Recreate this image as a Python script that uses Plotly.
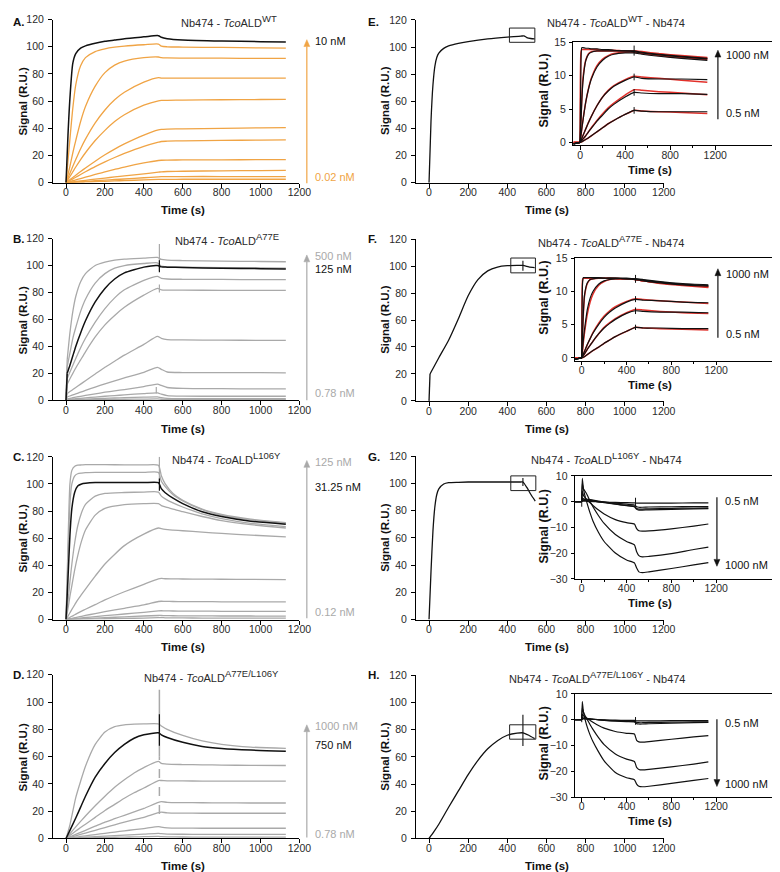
import plotly.graph_objects as go

W, H = 780, 872
FONT = "Liberation Sans, Arial, Helvetica, sans-serif"
NARROW = "Liberation Sans Narrow, Arial Narrow, Liberation Sans, sans-serif"
ORANGE = "#F0A445"
GRAY = "#A9A9A9"
RED = "#E2312B"
INK = "#111111"
TXT = "#2a2a2a"

# ---------------- data ----------------
MAIN_XTICKS = [0, 200, 400, 600, 800, 1000, 1200]
MAIN_YTICKS = [0, 20, 40, 60, 80, 100, 120]
INSET_XTICKS = [0, 400, 800, 1200]
INSET_XMINOR = [200, 600, 1000]
INSET_YTICKS_POS = [0, 5, 10, 15]
INSET_YTICKS_NEG = [-30, -20, -10, 0, 10]

# Panel A (Nb474 - TcoALD WT), orange series 0.02 .. 5 nM, black = 10 nM
GRID_A = [0, 10, 20, 35, 50, 75, 100, 150, 200, 250, 300, 400, 475, 490, 520, 600, 800, 1000, 1130]
A_BLACK = [0, 35, 62, 88, 95, 99, 100.7, 102.6, 104, 105, 106, 107.3, 108.2, 107, 106, 105, 104.2, 103.8, 103.5]
A_ORANGE = [
    [0, 16, 32, 55, 72, 86, 92, 96.5, 98.5, 99.7, 100.5, 101.5, 102, 100.5, 100, 99.8, 99.5, 99.2, 99],
    [0, 6, 12, 22, 31, 45, 56, 71, 81, 86.5, 89.5, 92, 92.5, 92, 91.8, 91.7, 91.6, 91.5, 91.5],
    [0, 3.5, 7, 12, 17, 25, 32, 44, 53.5, 61, 66.5, 74, 77.3, 77, 77, 77, 77, 77, 77],
    [0, 2.2, 4.5, 8, 11.5, 17, 22, 31, 38.5, 45, 50, 57, 60.2, 60.5, 60.6, 60.8, 61, 61.2, 61.3],
    [0, 1.1, 2.2, 3.8, 5.5, 8.2, 10.8, 15.8, 20.5, 24.7, 28.5, 35, 38.8, 39.2, 39.4, 39.6, 40, 40.3, 40.5],
    [0, 0.8, 1.6, 2.8, 4, 6, 8, 11.8, 15.3, 18.5, 21.5, 26.7, 29.8, 30.3, 30.5, 30.8, 31.1, 31.3, 31.5],
    [0, 0.4, 0.8, 1.4, 2, 3, 4, 6, 8, 9.8, 11.5, 14.5, 16.3, 16.5, 16.6, 16.7, 16.8, 16.9, 17],
    [0, 0.2, 0.4, 0.6, 0.9, 1.3, 1.7, 2.6, 3.4, 4.2, 5, 6.5, 7.7, 8, 8.2, 8.4, 8.7, 8.9, 9],
    [0, 0.1, 0.2, 0.3, 0.5, 0.7, 0.9, 1.4, 1.9, 2.3, 2.7, 3.6, 4.3, 4.4, 4.4, 4.5, 4.5, 4.5, 4.5],
    [0, 0.05, 0.1, 0.2, 0.3, 0.4, 0.5, 0.8, 1, 1.3, 1.5, 2, 2.4, 2.4, 2.4, 2.5, 2.5, 2.5, 2.5],
]

# Panel B (A77E), black = 125 nM
GRID_B = [0, 6, 20, 35, 50, 75, 100, 150, 200, 250, 300, 400, 470, 490, 520, 600, 800, 1000, 1130]
B_BLACK = [0, 20, 26, 33, 40, 50, 59, 73, 83, 90, 94.5, 98.8, 100, 99, 98.8, 98.5, 98, 97.7, 97.5]
B_GRAY = [
    [0, 30, 50, 66, 77, 88, 94, 100, 102.5, 104, 104.8, 105.5, 106, 104.5, 104, 103.7, 103.3, 103, 102.8],
    [0, 25, 35, 46, 54, 66, 75, 87, 94, 98, 100, 101.5, 102, 99.5, 99, 98.8, 98.5, 98.3, 98],
    [0, 16, 21, 26, 31, 39, 46, 58, 68, 76, 82, 89, 92, 90.5, 90, 89.8, 89.7, 89.5, 89.5],
    [0, 12, 16, 20, 24, 30, 36, 47, 56, 63, 69, 78, 83, 82, 81.8, 81.7, 81.6, 81.5, 81.5],
    [0, 5, 6.5, 8, 9.5, 12, 14.5, 19.5, 24.5, 29, 33.5, 41.5, 47.5, 46, 45, 44.8, 44.6, 44.5, 44.5],
    [0, 2.5, 3.2, 4, 4.8, 6, 7.3, 9.8, 12.2, 14.5, 16.6, 20.8, 24.5, 23, 21, 20.6, 20.5, 20.5, 20.4],
    [0, 1.2, 1.5, 1.9, 2.3, 3, 3.6, 4.8, 6, 7, 8, 10.2, 12, 11, 9.5, 8.8, 8.6, 8.5, 8.5],
    [0, 0.6, 0.8, 1, 1.2, 1.5, 1.8, 2.4, 3, 3.5, 4, 5, 5.5, 4.5, 3.5, 3.1, 3, 3, 3],
    [0, 0.3, 0.4, 0.5, 0.6, 0.7, 0.9, 1.2, 1.5, 1.7, 1.9, 2.3, 2.5, 2, 1.5, 1.3, 1.2, 1.2, 1.2],
    [0, 0.1, 0.15, 0.2, 0.25, 0.3, 0.35, 0.45, 0.55, 0.65, 0.75, 0.9, 1, 0.8, 0.6, 0.5, 0.5, 0.5, 0.5],
]
B_SPIKES_GRAY = [(480, 96, 116), (480, 80, 86), (464, 5, 9.8)]
B_SPIKES_BLACK = [(480, 95, 104)]

# Panel C (L106Y), black = 31.25 nM
GRID_C = [0, 10, 20, 30, 45, 60, 80, 100, 150, 200, 300, 400, 475, 490, 510, 550, 600, 700, 800, 950, 1130]
C_BLACK = [0, 30, 62, 82, 94, 98.5, 100, 100.5, 101, 101, 101, 101, 101, 96.5, 93.5, 89.5, 85.5, 79.5, 76, 72.5, 70.3]
C_GRAY = [
    [0, 55, 100, 110, 113, 113.8, 114, 114.2, 114.3, 114.2, 114.1, 114, 113.8, 106, 100, 93, 88, 81.5, 77.5, 74, 71.5],
    [0, 45, 85, 100, 106, 107.5, 108, 108.3, 108.5, 108.5, 108.5, 108.5, 108.5, 102, 98, 92, 87.5, 81, 77, 73.5, 71],
    [0, 13, 28, 41, 57, 69, 79, 85, 91, 93, 93.7, 94, 94, 91, 89, 86, 83, 78, 74.5, 71, 68.5],
    [0, 8, 17, 25, 37, 47, 58, 66, 77, 82, 84.8, 85.5, 85.5, 84, 83, 81.5, 79.5, 76, 73, 70, 67.5],
    [0, 2.5, 5, 7.5, 11, 14.5, 18.5, 22.5, 32, 41, 54.5, 63, 67.5, 67, 66.5, 66, 65.5, 64.5, 63.5, 62.3, 61],
    [0, 0.8, 1.6, 2.4, 3.5, 4.7, 6.2, 7.6, 11, 14.5, 20.5, 26, 30, 30.3, 30.1, 30, 29.9, 29.8, 29.7, 29.6, 29.5],
    [0, 0.3, 0.6, 0.9, 1.4, 1.8, 2.4, 3, 4.4, 5.8, 8.3, 10.8, 13.3, 13.5, 13.4, 13.3, 13.2, 13.2, 13.1, 13, 13],
    [0, 0.15, 0.3, 0.45, 0.7, 0.9, 1.2, 1.5, 2.2, 2.9, 4.1, 5.3, 6.4, 6.5, 6.4, 6.3, 6.2, 6.2, 6.1, 6, 6],
    [0, 0.07, 0.15, 0.22, 0.35, 0.45, 0.6, 0.75, 1.1, 1.4, 2, 2.6, 3, 3, 2.9, 2.8, 2.7, 2.7, 2.6, 2.6, 2.5],
    [0, 0.03, 0.07, 0.1, 0.15, 0.2, 0.25, 0.3, 0.45, 0.6, 0.85, 1.1, 1.4, 1.4, 1.3, 1.2, 1.2, 1.1, 1.1, 1, 1],
]
C_SPIKES_GRAY = [(480, 100, 120)]
C_SPIKES_BLACK = [(480, 95, 104)]

# Panel D (A77E/L106Y), black = 750 nM
GRID_D = [0, 20, 50, 75, 100, 150, 200, 250, 300, 350, 400, 475, 490, 520, 600, 700, 800, 950, 1130]
D_BLACK = [0, 6, 15, 23, 31, 45, 55, 63, 69, 73.5, 76, 77.5, 76, 74, 70.5, 67.5, 66, 64.8, 64]
D_GRAY = [
    [0, 10, 30, 42, 53, 69, 78, 82, 83.3, 83.8, 84, 84, 82.5, 80, 75.5, 71.5, 69, 67, 66],
    [0, 3.5, 8.5, 12.5, 16.5, 24, 31, 37.5, 43, 48, 52, 56.5, 55, 54.5, 54.2, 54, 53.8, 53.6, 53.5],
    [0, 2.2, 5.5, 8, 10.5, 15.5, 20.5, 25, 29.5, 33.5, 37, 42.5, 42.5, 42.3, 42.2, 42.1, 42, 42, 42],
    [0, 1.2, 3, 4.5, 6, 9, 12, 14.5, 17, 19.5, 22, 26.5, 27, 26.5, 26.3, 26.2, 26.1, 26, 26],
    [0, 0.8, 2, 3, 4, 6, 8, 10, 12, 13.8, 15.5, 19, 19.3, 18.8, 18.6, 18.5, 18.5, 18.5, 18.5],
    [0, 0.4, 1, 1.5, 2, 2.9, 3.8, 4.7, 5.6, 6.5, 7.3, 8.7, 8.3, 7.8, 7.6, 7.5, 7.5, 7.5, 7.5],
    [0, 0.2, 0.5, 0.7, 0.9, 1.3, 1.7, 2.1, 2.5, 2.9, 3.2, 3.8, 3.5, 3.2, 3.1, 3, 3, 3, 3],
    [0, 0.08, 0.2, 0.3, 0.4, 0.6, 0.8, 0.9, 1, 1.2, 1.3, 1.5, 1.3, 1.2, 1.1, 1, 1, 1, 1],
]
D_SPIKES_GRAY = [(480, 60, 109)]
D_SPIKES_GRAY_DASHED = [(480, 18, 60)]
D_SPIKES_BLACK = [(480, 68, 91)]

# Right column: sandwich sensorgrams (single curve each)
E_T = [0, 10, 20, 30, 40, 50, 75, 100, 150, 200, 300, 400, 470, 485, 500, 520, 540]
E_Y = [0, 45, 72, 86, 92.5, 95.5, 99, 100.8, 102.7, 104, 106, 107.3, 108, 108.3, 107, 106.3, 106]
F_T = [0, 5, 50, 100, 150, 200, 250, 300, 350, 400, 450, 480, 510, 540]
F_Y = [0, 20, 32, 45, 61, 78, 90, 96.5, 99.3, 100.3, 100.5, 100.5, 99.5, 98.8]
G_T = [0, 10, 20, 30, 40, 50, 75, 100, 150, 200, 300, 400, 470, 480, 500, 520, 543]
G_Y = [0, 35, 65, 83, 92, 96, 99.5, 100.5, 100.8, 101, 101, 101, 101, 101, 97, 92, 87]
H_T = [0, 25, 50, 100, 150, 200, 250, 300, 350, 400, 450, 480, 510, 540]
H_Y = [0, 5, 10.5, 23, 35, 47, 57.5, 66, 72, 76, 77.5, 77.8, 76, 73.5]
E_SPIKES = []
F_SPIKES = [(480, 96.5, 104)]
G_SPIKES = [(480, 98, 104)]
H_SPIKES = [(480, 68, 91)]
ZOOM_BOX_E = [411, 541, 103.5, 114]
ZOOM_BOX_F = [418, 544, 95, 106]
ZOOM_BOX_G = [418, 546, 94.7, 105.5]
ZOOM_BOX_H = [412, 546, 73.1, 83.7]

# Insets E/F: data (black) and fits (red), 0.5 .. 1000 nM
GRID_EFI = [-60, 0, 8, 15, 25, 50, 75, 100, 150, 200, 250, 300, 400, 480, 550, 700, 900, 1130]
EI_DATA = [
    [-0.2, 0, 12, 14.2, 14.2, 14.1, 14.1, 14, 14, 13.9, 13.9, 13.8, 13.7, 13.7, 13.5, 13.2, 12.9, 12.6],
    [-0.2, 0, 3, 6, 9, 12.2, 13.2, 13.5, 13.7, 13.7, 13.7, 13.7, 13.7, 13.6, 13.4, 13.1, 12.8, 12.5],
    [-0.2, 0, 1, 2, 3.2, 6, 8, 9.5, 11.3, 12.3, 12.9, 13.2, 13.4, 13.4, 13.2, 12.9, 12.6, 12.3],
    [-0.2, 0, 0.3, 0.6, 1, 2, 3, 3.9, 5.5, 6.8, 7.7, 8.4, 9.3, 9.8, 9.6, 9.5, 9.5, 9.4],
    [-0.2, 0, 0.15, 0.3, 0.5, 1, 1.6, 2.1, 3.2, 4.1, 5, 5.7, 6.8, 7.5, 7.4, 7.3, 7.3, 7.2],
    [-0.2, 0, 0.05, 0.1, 0.2, 0.45, 0.7, 1, 1.6, 2.2, 2.8, 3.3, 4.2, 4.8, 4.7, 4.6, 4.6, 4.6],
]
EI_FIT = [
    [0, 0, 13.5, 13.9, 13.9, 13.9, 13.9, 13.9, 13.9, 13.8, 13.8, 13.8, 13.7, 13.7, 13.6, 13.3, 13.0, 12.7],
    [0, 0, 3.5, 6.5, 9.5, 12.3, 13.3, 13.6, 13.7, 13.7, 13.7, 13.7, 13.7, 13.7, 13.5, 13.2, 12.9, 12.6],
    [0, 0, 1, 2, 3.3, 6, 8.1, 9.6, 11.5, 12.5, 13, 13.3, 13.5, 13.5, 13.3, 13, 12.7, 12.4],
    [0, 0, 0.3, 0.6, 1, 2, 3, 3.9, 5.5, 6.8, 7.8, 8.5, 9.4, 9.9, 9.8, 9.6, 9.3, 9.0],
    [0, 0, 0.15, 0.3, 0.5, 1, 1.6, 2.2, 3.3, 4.3, 5.2, 5.9, 7.1, 7.9, 7.8, 7.6, 7.4, 7.15],
    [0, 0, 0.05, 0.1, 0.2, 0.45, 0.7, 1, 1.6, 2.2, 2.8, 3.3, 4.2, 4.8, 4.7, 4.6, 4.5, 4.35],
]
EI_SPIKES = [(480, 13.0, 14.5), (480, 9.3, 10.3), (480, 7.0, 8.0), (480, 4.3, 5.3)]
FI_DATA = [
    [-0.2, 0, 11.5, 12.1, 12.1, 12.1, 12.1, 12.1, 12.1, 12, 12, 12, 12, 11.9, 11.8, 11.5, 11.2, 11],
    [-0.2, 0, 4, 7, 9.5, 11.3, 11.8, 11.9, 12, 12, 12, 12, 11.9, 11.9, 11.7, 11.4, 11.1, 10.9],
    [-0.2, 0, 1.5, 2.8, 4.3, 7.3, 9, 10, 11.1, 11.6, 11.8, 11.9, 11.9, 11.8, 11.6, 11.3, 11, 10.8],
    [-0.2, 0, 0.3, 0.6, 1, 2, 2.9, 3.7, 5, 6.1, 6.9, 7.5, 8.4, 8.8, 8.7, 8.6, 8.4, 8.3],
    [-0.2, 0, 0.2, 0.4, 0.6, 1.3, 1.9, 2.5, 3.6, 4.5, 5.2, 5.8, 6.7, 7.1, 7, 6.9, 6.9, 6.8],
    [-0.2, 0, 0.05, 0.1, 0.2, 0.5, 0.8, 1.1, 1.6, 2.2, 2.7, 3.2, 4, 4.6, 4.5, 4.5, 4.4, 4.4],
]
FI_FIT = [
    [0, 0, 11.8, 12, 12, 12, 12, 12, 12, 12, 12, 11.9, 11.9, 11.8, 11.6, 11.3, 11, 10.7],
    [0, 0, 3.8, 6.8, 9.3, 11.2, 11.8, 11.9, 12, 12, 12, 12, 11.9, 11.8, 11.6, 11.3, 11, 10.7],
    [0, 0, 1.2, 2.4, 3.8, 6.6, 8.4, 9.6, 10.9, 11.5, 11.8, 11.9, 11.9, 11.8, 11.6, 11.2, 10.9, 10.6],
    [0, 0, 0.3, 0.6, 1, 2, 2.9, 3.8, 5.2, 6.3, 7.1, 7.7, 8.5, 8.9, 8.8, 8.6, 8.4, 8.2],
    [0, 0, 0.2, 0.4, 0.6, 1.3, 1.9, 2.5, 3.6, 4.6, 5.3, 5.9, 6.8, 7.3, 7.2, 7, 6.8, 6.7],
    [0, 0, 0.05, 0.1, 0.2, 0.5, 0.8, 1.1, 1.6, 2.2, 2.7, 3.2, 4, 4.6, 4.5, 4.4, 4.3, 4.2],
]
FI_SPIKES = [(480, 11.3, 12.5), (480, 8.4, 9.3), (480, 6.6, 7.6), (480, 4.2, 5.0)]

# Insets G/H: data only (negative responses)
GRID_GHI = [-60, 0, 5, 15, 30, 50, 75, 100, 150, 200, 300, 400, 470, 490, 510, 540, 600, 800, 1000, 1130]
GI_DATA = [
    [0, 0, 9, 5, 2, -1, -4.5, -7.5, -12, -15.5, -20, -22.7, -23.8, -25.8, -27.3, -27.6, -27.3, -26, -24.6, -23.7],
    [0, 0, 7, 5, 4, 2.5, 0, -2, -5.5, -8.5, -12.8, -15.5, -16.8, -19.5, -21, -21.5, -21.3, -20.2, -18.6, -17.7],
    [0, 0, 4, 2.5, 1.5, 0.5, -0.5, -1.5, -3.3, -4.8, -7, -8.2, -8.7, -10.5, -11.3, -11.5, -11.4, -10.6, -9.5, -8.7],
    [0, 0, 0.6, 1, 1, 0.9, 0.8, 0.6, 0.2, -0.2, -0.9, -1.6, -2, -3, -3.3, -3.3, -3.2, -3, -2.8, -2.7],
    [0, 0, 1.5, 1, 0.8, 0.6, 0.5, 0.3, -0.1, -0.4, -1, -1.5, -1.8, -2.7, -2.9, -2.9, -2.8, -2.6, -2.5, -2.4],
    [0, 0, 0.5, 0.5, 0.5, 0.4, 0.3, 0.2, 0, -0.2, -0.6, -1, -1.3, -2, -2.2, -2.2, -2.1, -2, -1.9, -1.9],
    [0, 0, 0.2, 0.2, 0.2, 0.1, 0.1, 0, -0.1, -0.2, -0.3, -0.4, -0.5, -0.6, -0.6, -0.6, -0.6, -0.6, -0.5, -0.5],
]
GI_SPIKES = [(0, -2, 1.5), (480, -2, 1.5)]
HI_DATA = [
    [0, 0, 7, 3, 0, -3, -6, -8.5, -12.5, -16, -20.5, -22.5, -23.3, -25, -25.8, -26, -25.8, -24.7, -23.5, -22.8],
    [0, 0, 4.5, 3, 1.5, 0, -2, -3.8, -7, -9.7, -13.3, -15.3, -16.2, -18.5, -19.3, -19.5, -19.3, -18.3, -17.2, -16.4],
    [0, 0, 2, 1.5, 1, 0.5, -0.3, -1, -2.3, -3.3, -4.6, -5.3, -5.6, -8, -8.6, -8.7, -8.5, -7.6, -6.7, -6.2],
    [0, 0, 0.8, 0.6, 0.5, 0.4, 0.3, 0.2, -0.1, -0.3, -0.6, -0.8, -0.9, -1.6, -1.7, -1.7, -1.6, -1.4, -1.2, -1.1],
    [0, 0, 0.5, 0.5, 0.4, 0.3, 0.2, 0.1, 0, -0.2, -0.4, -0.6, -0.7, -1.1, -1.2, -1.2, -1.1, -1, -0.9, -0.9],
    [0, 0, 0.3, 0.3, 0.3, 0.2, 0.2, 0.1, 0, -0.1, -0.2, -0.3, -0.3, -0.5, -0.5, -0.5, -0.5, -0.4, -0.4, -0.4],
]
HI_SPIKES = [(0, -1, 2), (480, -2, 1)]

SUP = "<sup><span style='font-size:9.5px'>%s</span></sup>"
TITLES = {
    "A": "Nb474 - <i>Tco</i>ALD" + SUP % "WT",
    "B": "Nb474 - <i>Tco</i>ALD" + SUP % "A77E",
    "C": "Nb474 - <i>Tco</i>ALD" + SUP % "L106Y",
    "D": "Nb474 - <i>Tco</i>ALD" + SUP % "A77E/L106Y",
    "E": "Nb474 - <i>Tco</i>ALD" + SUP % "WT" + " - Nb474",
    "F": "Nb474 - <i>Tco</i>ALD" + SUP % "A77E" + " - Nb474",
    "G": "Nb474 - <i>Tco</i>ALD" + SUP % "L106Y" + " - Nb474",
    "H": "Nb474 - <i>Tco</i>ALD" + SUP % "A77E/L106Y" + " - Nb474",
}

# ---------------- layout geometry (pixels) ----------------
AXES = {
    1: (45.7, 296, 5.7, 171, [-67, 1200], [0, 120]),      # A
    2: (45.7, 296, 227.7, 391.7, [-67, 1200], [0, 120]),  # B
    3: (45.7, 296, 449, 614, [-67, 1200], [0, 120]),      # C
    4: (45.7, 296, 670, 836, [-67, 1200], [0, 120]),      # D
    5: (414.3, 666, 6, 171, [-67, 1200], [0, 120]),       # E
    6: (414.3, 666, 228.3, 392.3, [-67, 1200], [0, 120]), # F
    7: (414.3, 666, 448.3, 614, [-67, 1200], [0, 120]),   # G
    8: (414.3, 666, 670.7, 836, [-67, 1200], [0, 120]),   # H
    9: (574.3, 777.3, 28.3, 133.3, [-58.6, 1716], [-0.45, 15.05]),   # E inset
    10: (576, 777.3, 247.7, 351.7, [-58.9, 1710], [-0.45, 15]),      # F inset
    11: (576, 777.3, 468.3, 572.7, [-58.9, 1710], [-30, 10]),        # G inset
    12: (576, 777.3, 689.3, 794, [-58.9, 1710], [-30, 10]),          # H inset
}

fig = go.Figure()
layout = {}

for i, (x0, x1, yt, yb, xr, yr) in AXES.items():
    s = "" if i == 1 else str(i)
    inset = i >= 9
    tf = dict(family=FONT if inset else NARROW, size=10.5, color=TXT)
    common = dict(showline=True, linecolor="black", linewidth=1, ticks="outside",
                  ticklen=4 if not inset else 3.5, tickwidth=1, tickcolor="black",
                  showgrid=False, zeroline=False, fixedrange=True, tickfont=tf,
                  mirror=True if inset else False)
    xa = dict(common, domain=[x0 / W, x1 / W], range=xr, anchor="y" + s,
              tickvals=INSET_XTICKS if inset else MAIN_XTICKS, ticklabelstandoff=-4)
    if inset:
        xa["minor"] = dict(tickvals=INSET_XMINOR, ticks="outside", ticklen=2, tickcolor="black")
    if i in (11, 12):
        ytv = INSET_YTICKS_NEG
    elif inset:
        ytv = INSET_YTICKS_POS
    else:
        ytv = MAIN_YTICKS
    ya = dict(common, domain=[1 - yb / H, 1 - yt / H], range=yr, anchor="x" + s, tickvals=ytv,
              ticklabelstandoff=1 if inset else 2)
    layout["xaxis" + s] = xa
    layout["yaxis" + s] = ya


def ax(i):
    s = "" if i == 1 else str(i)
    return dict(xaxis="x" + s, yaxis="y" + s)


def curve(i, t, y, color, width=1.3, smooth=0.7, lin_head=0):
    # optional straight (injection-jump) head drawn linearly, rest as smooth spline
    if lin_head:
        fig.add_trace(go.Scatter(x=t[:lin_head + 1], y=y[:lin_head + 1], mode="lines",
                                 line=dict(color=color, width=width), hoverinfo="skip", showlegend=False, **ax(i)))
        t, y = t[lin_head:], y[lin_head:]
    fig.add_trace(go.Scatter(x=t, y=y, mode="lines",
                             line=dict(color=color, width=width, shape="spline", smoothing=smooth),
                             hoverinfo="skip", showlegend=False, **ax(i)))


def spikes(i, lst, color, width=1.2, dash=None):
    for (t, lo, hi) in lst:
        fig.add_trace(go.Scatter(x=[t, t], y=[lo, hi], mode="lines", line=dict(color=color, width=width, dash=dash),
                                 hoverinfo="skip", showlegend=False, **ax(i)))

# Panel A
for ys in A_ORANGE[::-1]:
    curve(1, GRID_A, ys, ORANGE, 1.3)
curve(1, GRID_A, A_BLACK, INK, 1.5)
# Panel B
for ys in B_GRAY[::-1]:
    curve(2, GRID_B, ys, GRAY, 1.3, 0.6, lin_head=1)
spikes(2, B_SPIKES_GRAY, GRAY)
curve(2, GRID_B, B_BLACK, INK, 1.5, 0.6, lin_head=1)
spikes(2, B_SPIKES_BLACK, INK)
# Panel C
for ys in C_GRAY[::-1]:
    curve(3, GRID_C, ys, GRAY, 1.3, 0.6)
spikes(3, C_SPIKES_GRAY, GRAY)
curve(3, GRID_C, C_BLACK, INK, 1.5, 0.6)
spikes(3, C_SPIKES_BLACK, INK)
# Panel D
for ys in D_GRAY[::-1]:
    curve(4, GRID_D, ys, GRAY, 1.3, 0.6)
spikes(4, D_SPIKES_GRAY, GRAY, 1.5)
spikes(4, D_SPIKES_GRAY_DASHED, GRAY, 1.5, "dash")
curve(4, GRID_D, D_BLACK, INK, 1.5, 0.6)
spikes(4, D_SPIKES_BLACK, INK)

shapes = []
# Right column main
for i, (t, y, sp, box, lh) in zip([5, 6, 7, 8], [(E_T, E_Y, E_SPIKES, ZOOM_BOX_E, 0),
                                                (F_T, F_Y, F_SPIKES, ZOOM_BOX_F, 1),
                                                (G_T, G_Y, G_SPIKES, ZOOM_BOX_G, 0),
                                                (H_T, H_Y, H_SPIKES, ZOOM_BOX_H, 0)]):
    curve(i, t, y, INK, 1.3, 0.6, lin_head=lh)
    spikes(i, sp, INK, 1.1)
    s = str(i)
    shapes.append(dict(type="rect", xref="x" + s, yref="y" + s, x0=box[0], x1=box[1], y0=box[2], y1=box[3],
                       line=dict(color="#222", width=1)))

# Insets E, F
for i, data, fit, sp in [(9, EI_DATA, EI_FIT, EI_SPIKES), (10, FI_DATA, FI_FIT, FI_SPIKES)]:
    for ys in fit:
        curve(i, GRID_EFI, ys, RED, 1.5, 0.5, lin_head=1)
    for ys in data:
        curve(i, GRID_EFI, ys, INK, 1.2, 0.5, lin_head=1)
    spikes(i, sp, INK, 1.0)
# Insets G, H
for i, data, sp in [(11, GI_DATA, GI_SPIKES), (12, HI_DATA, HI_SPIKES)]:
    for ys in data:
        curve(i, GRID_GHI, ys, INK, 1.2, 0.5, lin_head=1)
    spikes(i, sp, INK, 1.0)

# ---------------- annotations ----------------
ann = []

def text(xp, yp, s, size=11, color=TXT, anchor="left", bold=False, angle=0, family=FONT):
    ann.append(dict(x=xp / W, y=1 - yp / H, xref="paper", yref="paper", text=("<b>%s</b>" % s) if bold else s,
                    showarrow=False, xanchor=anchor, yanchor="middle", textangle=angle,
                    font=dict(family=family, size=size, color=color)))

def arrow(xp, y_head, y_tail, color):
    # vertical arrow drawn as a line + filled triangular head (paper coordinates)
    d = 1 if y_tail > y_head else -1        # +1: head points up
    hl, hw = 7.0, 3.0
    base = y_head + d * hl
    shapes.append(dict(type="line", xref="paper", yref="paper", x0=xp / W, x1=xp / W,
                       y0=1 - y_tail / H, y1=1 - base / H, line=dict(color=color, width=1.2)))
    path = "M %f,%f L %f,%f L %f,%f Z" % (xp / W, 1 - y_head / H, (xp - hw) / W, 1 - base / H,
                                          (xp + hw) / W, 1 - base / H)
    shapes.append(dict(type="path", xref="paper", yref="paper", path=path,
                       fillcolor=color, line=dict(color=color, width=0.5)))

for lab, y in zip("ABCD", [8, 228, 449, 670]):
    text(3, y, lab + ".", 11.5, INK, bold=True)
for lab, y in zip("EFGH", [8, 228, 449, 670]):
    text(364, y, lab + ".", 11.5, INK, bold=True)

for lab, (xp, yp) in zip("ABCDEFGH", [(224, 7), (222, 228), (222, 450), (207, 671),
                                     (617, 7), (612, 230), (608, 450), (599, 672)]):
    text(xp, yp, TITLES[lab], 11, TXT, anchor="center")

for (xc, yc) in [(15, 88), (15, 310), (15, 531), (15, 753)]:
    text(xc, yc, "Signal (R.U.)", 11.5, INK, anchor="center", bold=True, angle=-90)
for (xc, yc) in [(383, 88), (383, 310), (383, 531), (383, 753)]:
    text(xc, yc, "Signal (R.U.)", 11.5, INK, anchor="center", bold=True, angle=-90)
for yc in [199, 421, 642, 864]:
    text(178, yc, "Time (s)", 11.5, INK, anchor="center", bold=True)
    text(547, yc, "Time (s)", 11.5, INK, anchor="center", bold=True)
for (yc, ys) in [(158, 78), (376, 288), (597, 520), (818, 740)]:
    text(652, yc, "Time (s)", 11.5, INK, anchor="center", bold=True)
    text(544, ys, "Signal (R.U.)", 12.5, INK, anchor="center", bold=True, angle=-90)

arrow(303.5, 26, 171.7, ORANGE)
text(310, 27, "10 nM", 11, INK)
text(310, 165, "0.02 nM", 11, ORANGE)
arrow(303.5, 244.3, 391.7, GRAY)
text(310, 245, "500 nM", 11, GRAY)
text(310, 258.5, "125 nM", 11, INK)
text(310, 384, "0.78 nM", 11, GRAY)
arrow(303.5, 452.7, 612.7, GRAY)
text(310, 454, "125 nM", 11, GRAY)
text(310, 480, "31.25 nM", 11, INK)
text(310, 606.7, "0.12 nM", 11, GRAY)
arrow(303.5, 720.7, 835, GRAY)
text(310, 722.3, "1000 nM", 11, GRAY)
text(310, 741.7, "750 nM", 11, INK)
text(310, 831.7, "0.78 nM", 11, GRAY)

arrow(721, 36.7, 106.7, INK)
text(727, 41.7, "1000 nM", 11, INK)
text(727, 100, "0.5 nM", 11, INK)
arrow(721, 258.3, 328.3, INK)
text(727, 263.3, "1000 nM", 11, INK)
text(727, 324, "0.5 nM", 11, INK)
arrow(720, 560, 490, INK)
text(726, 493.3, "0.5 nM", 11, INK)
text(726, 558.3, "1000 nM", 11, INK)
arrow(720, 783.3, 715, INK)
text(726, 719.3, "0.5 nM", 11, INK)
text(726, 780.7, "1000 nM", 11, INK)

layout["annotations"] = ann
layout["shapes"] = shapes
fig.update_layout(**layout)
fig.update_layout(width=W, height=H, margin=dict(l=0, r=0, t=0, b=0), paper_bgcolor="white",
                  plot_bgcolor="rgba(0,0,0,0)", showlegend=False, font=dict(family=FONT, color=TXT))
fig.write_html("out.html")
